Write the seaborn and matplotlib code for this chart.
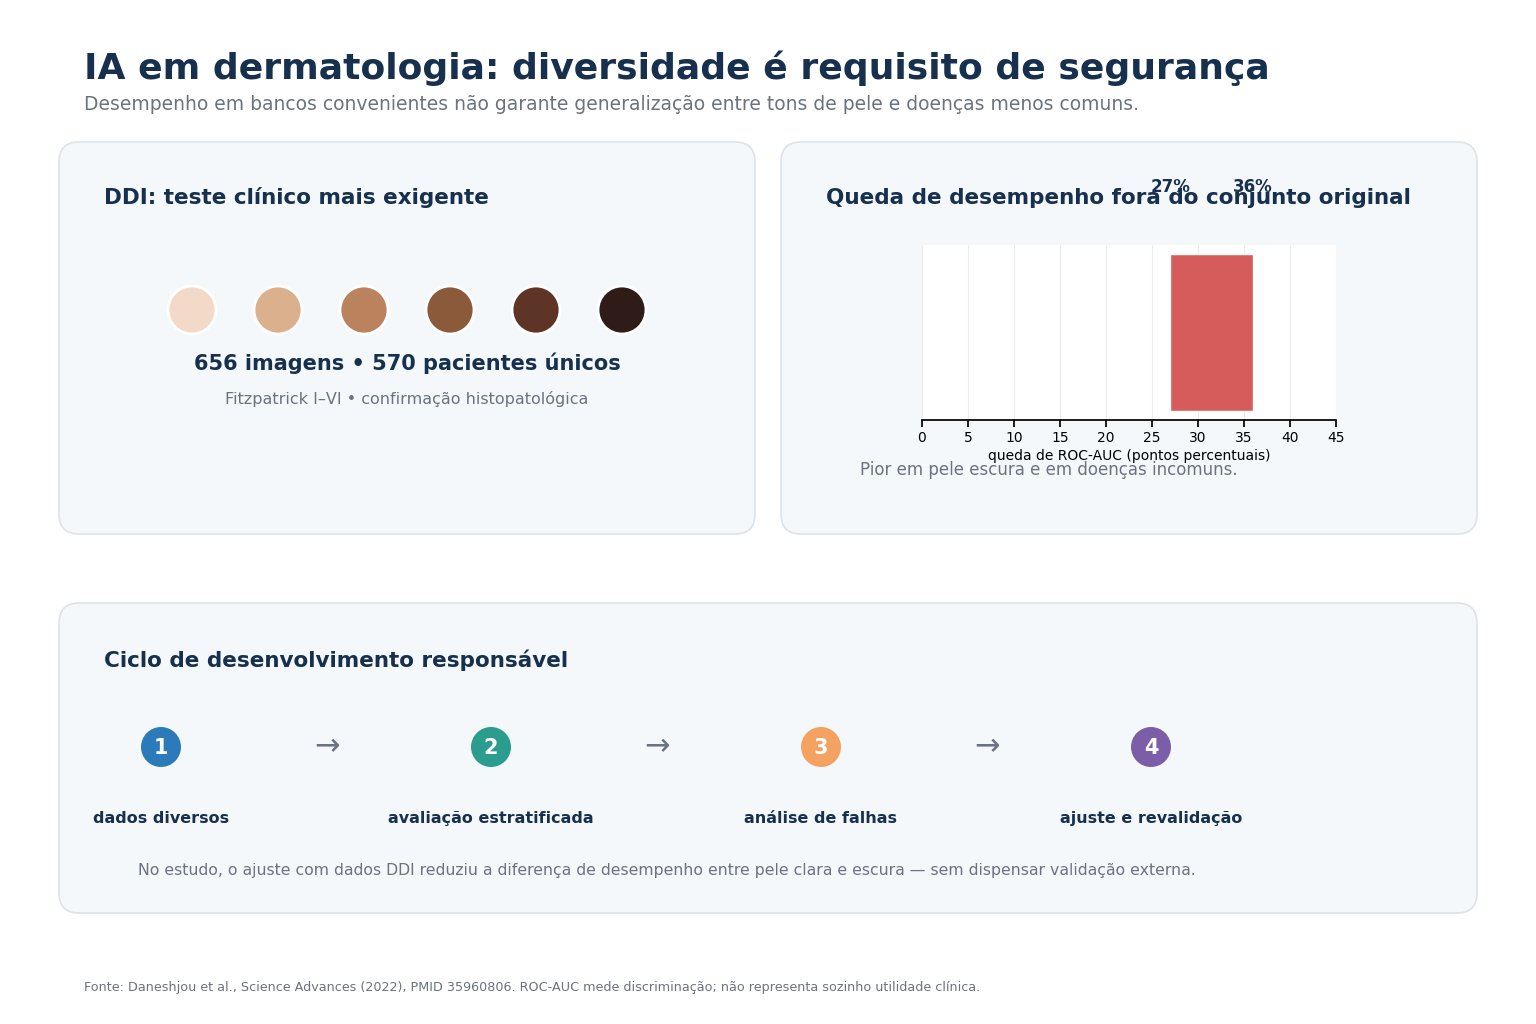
import numpy as np
import pandas as pd
import seaborn as sns
import matplotlib.pyplot as plt
from matplotlib.patches import FancyBboxPatch, Circle

# dados
tons_pele = ["#f3d9c8", "#dbb08c", "#bb835d", "#8b5a3a", "#5e3427", "#2f1c19"]
queda_min = 27
queda_max = 36
etapas = ["dados diversos", "avaliação estratificada", "análise de falhas", "ajuste e revalidação"]
cores_etapas = ["#2b7bba", "#2a9d8f", "#f4a261", "#7b5ea7"]
ticks_x = [0, 5, 10, 15, 20, 25, 30, 35, 40, 45]

sns.set_theme(style="white")
plt.rcParams['font.family'] = ['DejaVu Sans']

NAVY = "#16304d"
GRAY = "#6b7280"
W, H = 1536, 1024

fig = plt.figure(figsize=(15.36, 10.24), dpi=100)
fig.patch.set_facecolor("white")

bg = fig.add_axes([0, 0, 1, 1])
bg.set_xlim(0, W)
bg.set_ylim(H, 0)
bg.axis("off")

def painel(x0, y0, x1, y1):
    p = FancyBboxPatch((x0, y0), x1 - x0, y1 - y0,
                       boxstyle="round,pad=0,rounding_size=20",
                       facecolor="#f4f8fb", edgecolor="#dde3ea", linewidth=1.2)
    bg.add_patch(p)

painel(59, 142, 755, 534)
painel(781, 142, 1477, 534)
painel(59, 603, 1477, 913)

# titulo
bg.text(84, 68, "IA em dermatologia: diversidade é requisito de segurança",
        fontsize=26, fontweight="bold", color=NAVY, va="center")
bg.text(84, 105, "Desempenho em bancos convenientes não garante generalização entre tons de pele e doenças menos comuns.",
        fontsize=13.5, color=GRAY, va="center")

# painel esquerdo
bg.text(104, 198, "DDI: teste clínico mais exigente", fontsize=15.5, fontweight="bold",
        color=NAVY, va="center")
for i, c in enumerate(tons_pele):
    bg.add_patch(Circle((192 + i * 86, 310), 24, facecolor=c, edgecolor="white", linewidth=2))
bg.text(407, 363, "656 imagens • 570 pacientes únicos", fontsize=15, fontweight="bold",
        color=NAVY, ha="center", va="center")
bg.text(407, 399, "Fitzpatrick I–VI • confirmação histopatológica", fontsize=11.5,
        color=GRAY, ha="center", va="center")

# painel direito
bg.text(826, 198, "Queda de desempenho fora do conjunto original", fontsize=15.5,
        fontweight="bold", color=NAVY, va="center")
bg.text(860, 470, "Pior em pele escura e em doenças incomuns.", fontsize=12,
        color=GRAY, va="center")

ax = fig.add_axes([922 / W, 1 - 420 / H, 414 / W, 175 / H])
ax.set_facecolor("white")
ax.barh([0], [queda_max - queda_min], left=[queda_min], height=0.9, color="#d65c5c")
ax.set_xlim(0, 45)
ax.set_ylim(-0.5, 0.5)
ax.set_xticks(ticks_x)
ax.set_yticks([])
ax.grid(axis="x", color="#ececec", linewidth=0.8)
ax.set_axisbelow(True)
sns.despine(ax=ax, left=True)
ax.spines["bottom"].set_color("black")
ax.tick_params(axis="x", labelsize=10, length=5, color="black", labelcolor="black",
               bottom=True, pad=3)
ax.set_xlabel("queda de ROC-AUC (pontos percentuais)", fontsize=10, labelpad=3, color="black")
for v in (queda_min, queda_max):
    ax.text(v, 1.33, f"{v}%", transform=ax.get_xaxis_transform(), ha="center",
            va="center", fontsize=12, fontweight="bold", color=NAVY)

# painel inferior
bg.text(104, 660, "Ciclo de desenvolvimento responsável", fontsize=15.5, fontweight="bold",
        color=NAVY, va="center")
for i, (nome, cor) in enumerate(zip(etapas, cores_etapas)):
    cx = 161 + i * 330
    bg.add_patch(Circle((cx, 747), 20, facecolor=cor, edgecolor="none"))
    bg.text(cx, 748, str(i + 1), fontsize=15, fontweight="bold", color="white",
            ha="center", va="center")
    bg.text(cx, 823, nome, fontsize=11.5, fontweight="bold", color=NAVY,
            ha="center", va="baseline")
    if i < len(etapas) - 1:
        bg.text(cx + 166, 747, "→", fontsize=22, color=GRAY, ha="center", va="center")
bg.text(138, 870, "No estudo, o ajuste com dados DDI reduziu a diferença de desempenho entre pele clara e escura — sem dispensar validação externa.",
        fontsize=11.3, color=GRAY, va="center")

bg.text(84, 987, "Fonte: Daneshjou et al., Science Advances (2022), PMID 35960806. ROC-AUC mede discriminação; não representa sozinho utilidade clínica.",
        fontsize=9.2, color=GRAY, va="center")

fig.savefig("out.png", dpi=100, facecolor="white")
